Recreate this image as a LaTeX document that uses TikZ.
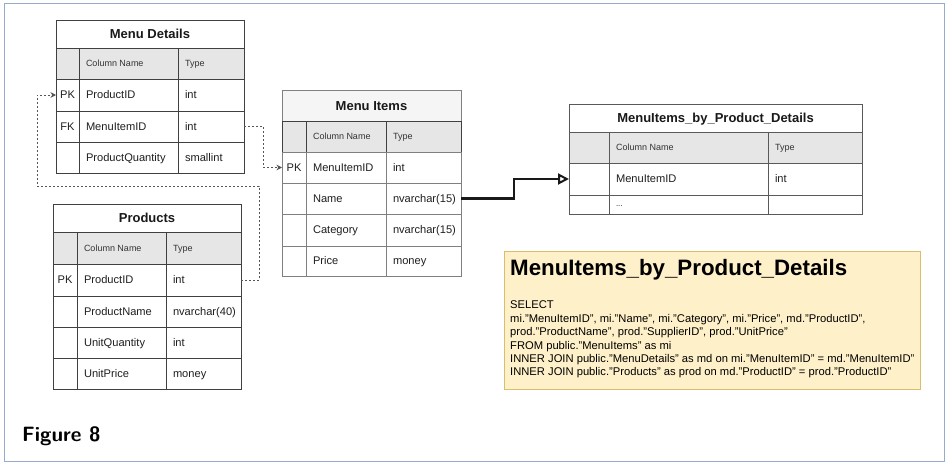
\documentclass[tikz,border=0pt]{standalone}
\usepackage{fontspec}
\setmainfont{Liberation Sans}
\usetikzlibrary{arrows.meta}
\definecolor{framec}{RGB}{150,172,205}
\definecolor{hdrc}{RGB}{230,230,230}
\definecolor{ttlc}{RGB}{245,245,245}
\definecolor{sqlfill}{RGB}{254,240,200}
\definecolor{sqldraw}{RGB}{218,190,110}
\definecolor{connc}{RGB}{85,85,85}
\def\bc{black!75}
\tikzset{
  cell/.style={rectangle, anchor=north west, inner sep=0pt, outer sep=0pt, line width=0.9pt, draw=\bc},
  rowS/.style={font=\fontsize{11.1}{13}\selectfont, text height=7.9pt, text depth=0pt, text=black!88},
  hdrS/.style={font=\fontsize{9}{11}\selectfont, text height=6.5pt, text depth=0pt, fill=hdrc, text=black!80},
  ttlS/.style={font=\fontsize{13}{15}\selectfont\bfseries, text height=9.3pt, text depth=0pt, text=black!90},
  dotconn/.style={draw=connc, line width=0.9pt, dash pattern=on 2pt off 2pt, -{Stealth[length=5.5pt,width=5.5pt]}},
  thickconn/.style={draw=black!90, line width=2.2pt, -{Triangle[open,length=11pt,width=11pt,line width=2pt,fill=white]}},
}
\newcommand\Lc[7]{\node[cell,#6,minimum width=#4pt,minimum height=#5pt] (#1) at (#2,#3) {\hbox to #4pt{\hskip7pt #7\hfil}};}
\newcommand\Cc[7]{\node[cell,#6,minimum width=#4pt,minimum height=#5pt] (#1) at (#2,#3) {\hbox to #4pt{\hfil #7\hfil}};}
\newcommand\trow[7]{%
  \Cc{#1-k}{\tx}{#2}{\wa}{#3}{#4}{#5}
  \Lc{#1-n}{\tx+\wa}{#2}{\wb}{#3}{#4}{#6}
  \Lc{#1-t}{\tx+\wa+\wb}{#2}{\wc}{#3}{#4}{#7}}
\begin{document}
\begin{tikzpicture}[x=1pt,y=-1pt]
\useasboundingbox (0,0) rectangle (948,468);
\fill[white] (0,0) rectangle (948,468);
\draw[framec, line width=1.4pt] (4.3,3.3) rectangle (944.5,461.5);

% Menu Details
\def\bc{black!75}
\def\tx{56}\def\wa{23}\def\wb{99}\def\wc{66}
\Cc{md-title}{56}{20}{188}{28}{ttlS}{Menu Details}
\trow{md-h}{48}{31}{hdrS}{}{Column Name}{Type}
\trow{md-r1}{79}{32}{rowS}{PK}{ProductID}{int}
\trow{md-r2}{111}{31}{rowS}{FK}{MenuItemID}{int}
\trow{md-r3}{142}{31}{rowS}{}{ProductQuantity}{smallint}

% Products
\def\tx{53}\def\wa{24}\def\wb{89}\def\wc{75}
\Cc{pr-title}{53}{204}{188}{28}{ttlS}{Products}
\trow{pr-h}{232}{32}{hdrS}{}{Column Name}{Type}
\trow{pr-r1}{264}{32}{rowS}{PK}{ProductID}{int}
\trow{pr-r2}{296}{31}{rowS}{}{ProductName}{nvarchar(40)}
\trow{pr-r3}{327}{31}{rowS}{}{UnitQuantity}{int}
\trow{pr-r4}{358}{31}{rowS}{}{UnitPrice}{money}

% Menu Items
\def\bc{black!50}
\def\tx{282}\def\wa{24}\def\wb{80}\def\wc{75}
\Cc{mi-title}{282}{90}{179}{31}{ttlS,fill=ttlc}{Menu Items}
\trow{mi-h}{121}{31}{hdrS,draw=black!75}{}{Column Name}{Type}
\trow{mi-r1}{152}{31}{rowS}{PK}{MenuItemID}{int}
\trow{mi-r2}{183}{31}{rowS}{}{Name}{nvarchar(15)}
\trow{mi-r3}{214}{32}{rowS}{}{Category}{nvarchar(15)}
\trow{mi-r4}{246}{30}{rowS}{}{Price}{money}

% MenuItems_by_Product_Details
\def\bc{black!65}
\def\tx{569}\def\wa{40}\def\wb{159}\def\wc{94}
\Cc{pd-title}{569}{104}{293}{28}{ttlS}{MenuItems\_by\_Product\_Details}
\trow{pd-h}{132}{31}{hdrS}{}{Column Name}{Type}
\trow{pd-r1}{163}{32}{rowS}{}{MenuItemID}{int}
\trow{pd-r2}{195}{19}{rowS,font=\fontsize{8}{10}\selectfont,text height=3pt}{}{...}{}

% connectors
\coordinate (c1) at (263,126.5);
\draw[dotconn] (md-r2-t.east) -- (c1) |- (mi-r1-k.west);
\coordinate (c2) at (259,186);
\coordinate (c3) at (37,186);
\draw[dotconn] (pr-r1-t.east) -| (c2) -- (c3) |- (md-r1-k.west);
\coordinate (c4) at (514,179);
\draw[thickconn] (mi-r2-t.east) -| (c4) -- (pd-r1-k.west);

% SQL box
\node[draw=sqldraw, fill=sqlfill, line width=0.9pt, anchor=north west, minimum width=416pt, minimum height=138pt, inner sep=0pt] (sqlbox) at (504,251) {};
\node[anchor=north west, inner sep=0pt, align=left, font=\fontsize{11.2}{13.4}\selectfont] (sqltext) at (510,259.2)
 {{\fontsize{22.3}{26}\selectfont\bfseries MenuItems\_by\_Product\_Details}\\[20pt]
 SELECT\\
 mi."MenuItemID", mi."Name", mi."Category", mi."Price", md."ProductID",\\
 prod."ProductName", prod."SupplierID", prod."UnitPrice"\\
 FROM public."MenuItems" as mi\\
 INNER JOIN public."MenuDetails" as md on mi."MenuItemID" = md."MenuItemID"\\
 INNER JOIN public."Products" as prod on md."ProductID" = prod."ProductID"};

% Figure label
\node[anchor=base west, inner sep=0pt, font=\sffamily\bfseries\fontsize{20.7}{24}\selectfont] (fig) at (22,441.7) {Figure 8};
\end{tikzpicture}
\end{document}
